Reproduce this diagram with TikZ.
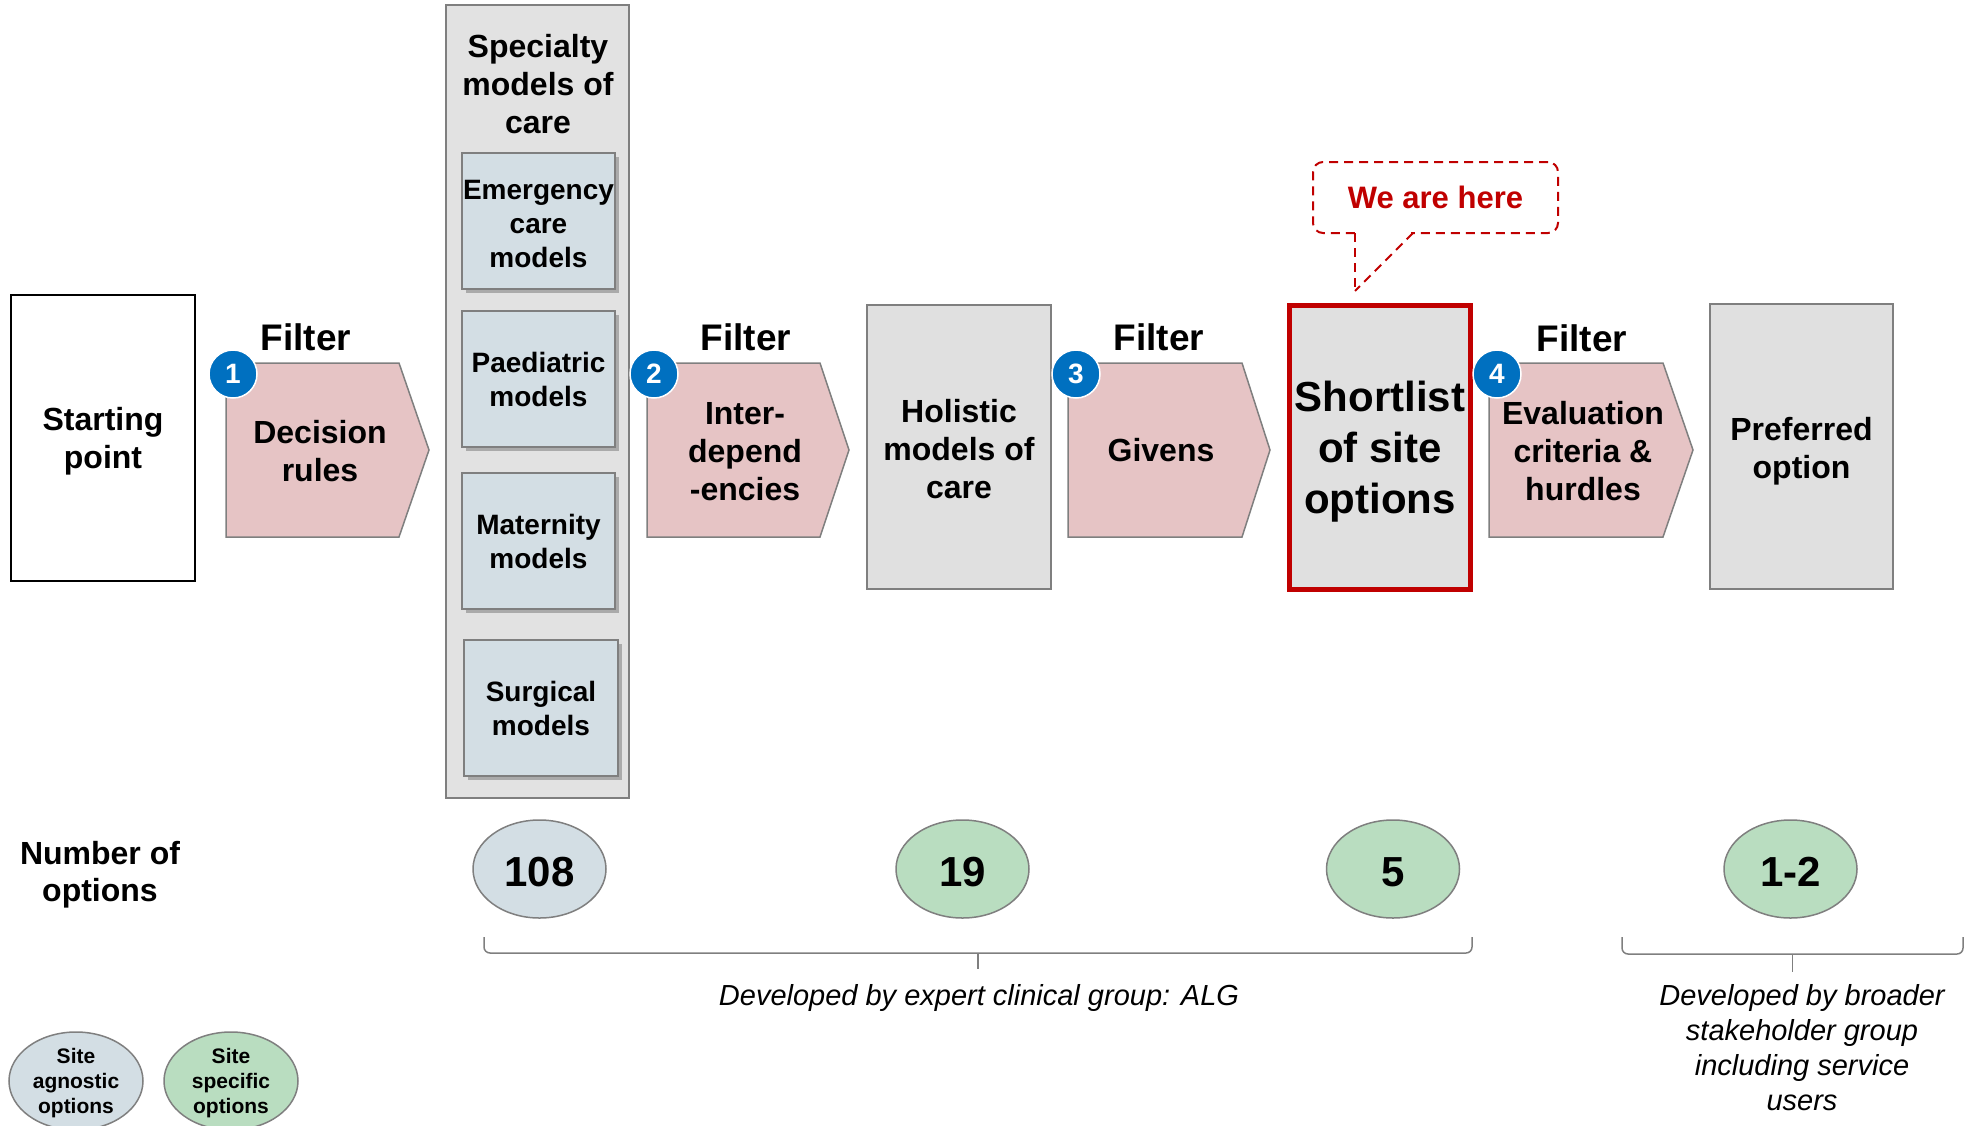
\documentclass[tikz,border=0pt]{standalone}
\usepackage{fontspec}
\setmainfont{Liberation Sans}
\usetikzlibrary{shadows,shapes.geometric}
\definecolor{pinkf}{HTML}{E6C4C5}
\definecolor{grayf}{HTML}{E0E0E0}
\definecolor{panelf}{HTML}{E2E2E2}
\definecolor{bordg}{HTML}{7F7F7F}
\definecolor{bluef}{HTML}{D3DEE4}
\definecolor{greenf}{HTML}{B9DDC0}
\definecolor{redc}{HTML}{C00000}
\definecolor{badgec}{HTML}{0070C0}
\begin{document}
\begin{tikzpicture}[x=1pt,y=-1pt,
  bigbox/.style={draw=bordg, fill=grayf, line width=1.5pt, inner sep=0pt, outer sep=0pt, align=center, text depth=0pt, font=\bfseries\fontsize{32}{38}\selectfont},
  boxtext/.style={align=center, inner sep=0pt, text depth=0pt, font=\bfseries\fontsize{32}{38}\selectfont},
  subbox/.style={draw=bordg, fill=bluef, line width=1.5pt, inner sep=0pt, minimum width=153pt, minimum height=136pt, align=center, font=\bfseries\fontsize{28}{34}\selectfont, drop shadow={shadow xshift=4pt, shadow yshift=-4pt, fill=black!60, opacity=0.45}},
  subtext/.style={align=center, inner sep=0pt, font=\bfseries\fontsize{28}{34}\selectfont},
  arrowshape/.style={draw=bordg, fill=pinkf, line width=1.5pt, line join=miter},
  arrtext/.style={align=center, inner sep=0pt, font=\bfseries\fontsize{32}{38}\selectfont},
  filterlbl/.style={inner sep=0pt, font=\bfseries\fontsize{37}{44}\selectfont},
  badge/.style={circle, fill=badgec, draw=white, line width=1.5pt, minimum size=48pt, inner sep=0pt, text=white, font=\bfseries\fontsize{28}{32}\selectfont},
  numell/.style={ellipse, draw=bordg, line width=1.5pt, minimum width=133pt, minimum height=98pt, inner sep=0pt, text height=35pt, text depth=0pt, font=\bfseries\fontsize{42}{48}\selectfont},
  legell/.style={ellipse, draw=bordg, line width=1.5pt, minimum width=134pt, minimum height=98pt, inner sep=0pt, align=center, text depth=0pt, font=\bfseries\fontsize{21}{25}\selectfont},
  bracel/.style={draw=bordg, line width=1.5pt, rounded corners=6pt},
  devtext/.style={align=center, inner sep=0pt, font=\itshape\fontsize{29}{35}\selectfont},
  calloutline/.style={draw=redc, line width=2pt, dash pattern=on 9pt off 6pt}
]
\useasboundingbox (0,0) rectangle (1973,1125);

% Starting point
\node[draw=black, line width=2.5pt, fill=white, minimum width=184pt, minimum height=286pt, inner sep=0pt, align=center, text depth=0pt, font=\bfseries\fontsize{32}{38}\selectfont] (start) at (103,438) {Starting\\point};

% Specialty panel
\node[draw=bordg, fill=panelf, line width=1.5pt, minimum width=183pt, minimum height=793pt, inner sep=0pt] (panel) at (537.5,401.5) {};
\node[align=center, inner sep=0pt, font=\bfseries\fontsize{32}{38}\selectfont] (spec) at (538,84) {Specialty\\models of\\care};
\node[subbox] (emerg) at (538.5,221) {};
\node[subtext] (emergT) at (538.5,224) {Emergency\\care\\models};
\node[subbox] (paed) at (538.5,379) {Paediatric\\models};
\node[subbox] (mat) at (538.5,541) {Maternity\\models};
\node[subbox, minimum width=154pt] (surg) at (541,708) {Surgical\\models};

% Filter 1
\path[arrowshape] (226,363) -- (399,363) -- (429,450) -- (399,537) -- (226,537) -- cycle;
\node[arrtext] (f1) at (320,451) {Decision\\rules};
\node[filterlbl] (fl1) at (306,337) {Filter};
\node[badge] (b1) at (233,374) {1};

% Filter 2
\path[arrowshape] (647,363) -- (820,363) -- (849,450) -- (820,537) -- (647,537) -- cycle;
\node[arrtext] (f2) at (745,451.5) {Inter-\\depend\\-encies};
\node[filterlbl] (fl2) at (746,337) {Filter};
\node[badge] (b2) at (654,374) {2};

% Holistic
\node[bigbox, minimum width=184pt, minimum height=284pt] (holistic) at (959,447) {};
\node[boxtext] (holisticT) at (959,449) {Holistic\\models of\\care};

% Filter 3
\path[arrowshape] (1068,363) -- (1242,363) -- (1270,450) -- (1242,537) -- (1068,537) -- cycle;
\node[arrtext] (f3) at (1161,450) {Givens};
\node[filterlbl] (fl3) at (1159,337) {Filter};
\node[badge] (b3) at (1076,374) {3};

% Shortlist
\node[bigbox, draw=redc, line width=5pt, minimum width=181pt, minimum height=284pt, font=\bfseries\fontsize{42}{51}\selectfont] (short) at (1380,447.5) {Shortlist\\of site\\options};

% Filter 4
\path[arrowshape] (1489,363) -- (1663,363) -- (1693,450) -- (1663,537) -- (1489,537) -- cycle;
\node[arrtext] (f4) at (1583,451) {Evaluation\\criteria \&\\hurdles};
\node[filterlbl] (fl4) at (1582,338) {Filter};
\node[badge] (b4) at (1497,374) {4};

% Preferred
\node[bigbox, minimum width=183pt, minimum height=285pt] (pref) at (1801.5,446.5) {};
\node[boxtext] (prefT) at (1801.5,448) {Preferred\\option};

% Callout
\node[calloutline, rounded corners=10pt, minimum width=245pt, minimum height=71pt, inner sep=0pt, text=redc, font=\bfseries\fontsize{31}{36}\selectfont] (callout) at (1435.5,197.5) {\raisebox{-1pt}{We are here}};
\coordinate (tl) at (1355,233);
\coordinate (tr) at (1413,233);
\coordinate (tip) at (1355,291);
\draw[white, line width=4pt] (1357,233) -- (1411,233);
\draw[calloutline] (tl) -- (tip);
\draw[calloutline] (tr) -- (tip);

% Number of options
\node[align=center, inner sep=0pt, text depth=0pt, font=\bfseries\fontsize{32}{37}\selectfont] (numlbl) at (100,871) {Number of\\options};
\node[numell, fill=bluef] (n108) at (539.5,869) {108};
\node[numell, fill=greenf] (n19) at (962.5,869) {19};
\node[numell, fill=greenf] (n5) at (1393,869) {5};
\node[numell, fill=greenf] (n12) at (1790.5,869) {1-2};

% Brackets
\draw[bracel] (484,937) -- (484,953) -- (1472,953) -- (1472,937);
\draw[draw=bordg, line width=1.5pt] (978,953) -- (978,969);
\draw[bracel] (1622,937) -- (1622,954) -- (1963,954) -- (1963,937);
\draw[draw=bordg, line width=1.5pt] (1792.5,954) -- (1792.5,972);

\node[devtext] (dev1) at (979,997.5) {Developed by expert clinical group: ALG};
\node[devtext] (dev2) at (1802,1047.5) {Developed by broader\\stakeholder group\\including service\\users};

% Legend
\node[legell, fill=bluef] (lg1) at (76,1081) {Site\\agnostic\\options};
\node[legell, fill=greenf] (lg2) at (231,1081) {Site\\specific\\options};
\end{tikzpicture}
\end{document}
